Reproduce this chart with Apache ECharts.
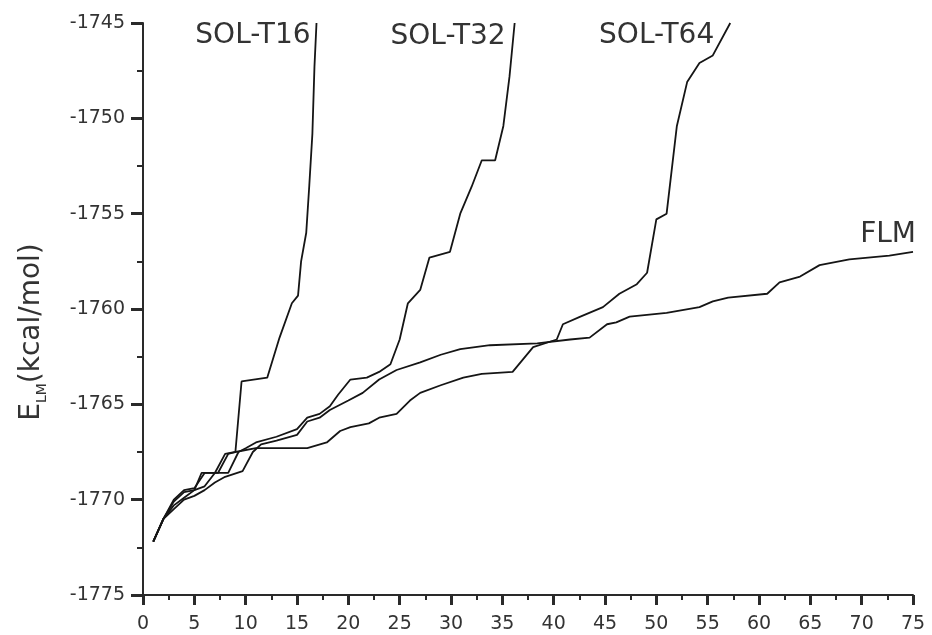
<!DOCTYPE html>
<html>
<head>
<meta charset="utf-8">
<script src="https://cdn.jsdelivr.net/npm/echarts@6/dist/echarts.min.js"></script>
<style>html,body{margin:0;padding:0;background:#fff;}#c{width:932px;height:635px;}</style>
</head>
<body>
<div id="c"></div>
<script>
const seriesNames = ['SOL-T16', 'SOL-T32', 'SOL-T64', 'FLM'];

const xT16 = [1,2,3,4,5,6,7,8,9,9.6,12.1,13.3,14.5,15.1,15.4,15.9,16.2,16.5,16.7,16.9];
const yT16 = [-1772.2,-1771.0,-1770.0,-1769.5,-1769.4,-1768.6,-1768.6,-1767.6,-1767.5,-1763.8,-1763.6,-1761.5,-1759.7,-1759.3,-1757.5,-1756.0,-1753.5,-1750.8,-1747.3,-1745.0];

const xT32 = [1,2,3,4,5,6,7,8.3,9.3,10,11,13,15,16,17.2,18.2,19,20.2,21.8,23,24.1,25,25.8,27,27.9,29.9,30.9,32,33,34.3,35.1,35.7,36.2];
const yT32 = [-1772.2,-1771.0,-1770.3,-1769.9,-1769.5,-1769.3,-1768.6,-1768.6,-1767.5,-1767.3,-1767.0,-1766.7,-1766.3,-1765.7,-1765.5,-1765.1,-1764.5,-1763.7,-1763.6,-1763.3,-1762.9,-1761.6,-1759.7,-1759.0,-1757.3,-1757.0,-1755.0,-1753.6,-1752.2,-1752.2,-1750.4,-1747.8,-1745.0];

const xT64 = [1,2,3,4,5,5.7,7.3,8.3,9,11,16,17.9,19.2,20.2,22,23,24.7,26,27,29,31.2,33,36,38,40.3,40.9,42.6,44.8,46.4,48.1,49.1,50,51,52,53,54.2,55.5,57.2];
const yT64 = [-1772.2,-1771.0,-1770.1,-1769.6,-1769.5,-1768.6,-1768.6,-1767.6,-1767.5,-1767.3,-1767.3,-1767.0,-1766.4,-1766.2,-1766.0,-1765.7,-1765.5,-1764.8,-1764.4,-1764.0,-1763.6,-1763.4,-1763.3,-1762.0,-1761.6,-1760.8,-1760.4,-1759.9,-1759.2,-1758.7,-1758.1,-1755.3,-1755.0,-1750.4,-1748.1,-1747.1,-1746.7,-1745.0];

const xFLM = [1,2,3,4,5,6,7,8,9.7,10.7,11.5,13,15,16,17.2,18.2,20,21.4,23,24.7,27,29,30.9,33.8,38.4,41.6,43.5,45.2,46.1,47.4,51,54.2,55.5,57,60.8,62,64,65.9,68.8,72.7,75];
const yFLM = [-1772.2,-1771.0,-1770.5,-1770.0,-1769.8,-1769.5,-1769.1,-1768.8,-1768.5,-1767.5,-1767.1,-1766.9,-1766.6,-1765.9,-1765.7,-1765.3,-1764.8,-1764.4,-1763.7,-1763.2,-1762.8,-1762.4,-1762.1,-1761.9,-1761.8,-1761.6,-1761.5,-1760.8,-1760.7,-1760.4,-1760.2,-1759.9,-1759.6,-1759.4,-1759.2,-1758.6,-1758.3,-1757.7,-1757.4,-1757.2,-1757.0];

const xTicks = { min: 0, max: 75, interval: 5 };
const yTicks = { min: -1775, max: -1745, interval: 5 };

function zip(xs, ys) { return xs.map((x, i) => [x, ys[i]]); }

const FONT = 'DejaVu Sans';
const TXT = '#333';
const LINE = '#151515';
const AX = '#2a2a2a';

function lineSeries(name, xs, ys, endLabel) {
  return {
    name: name,
    type: 'line',
    data: zip(xs, ys),
    showSymbol: false,
    symbol: 'none',
    lineStyle: { color: LINE, width: 1.8 },
    endLabel: Object.assign({
      show: true,
      formatter: name,
      color: TXT,
      fontFamily: FONT,
      fontSize: 28
    }, endLabel),
    animation: false
  };
}

const chart = echarts.init(document.getElementById('c'));
chart.setOption({
  backgroundColor: '#fff',
  animation: false,
  grid: { left: 143, right: 19, top: 23, bottom: 40 },
  xAxis: {
    type: 'value',
    min: xTicks.min, max: xTicks.max, interval: xTicks.interval,
    axisLine: { show: true, onZero: false, lineStyle: { color: AX, width: 2 } },
    axisTick: { show: true, inside: false, length: 10, lineStyle: { color: AX, width: 3 } },
    minorTick: { show: true, splitNumber: 2, length: 5, lineStyle: { color: AX, width: 2 } },
    splitLine: { show: false },
    axisLabel: { color: TXT, fontFamily: FONT, fontSize: 19, margin: 20 }
  },
  yAxis: {
    type: 'value',
    min: yTicks.min, max: yTicks.max, interval: yTicks.interval,
    axisLine: { show: true, onZero: false, lineStyle: { color: AX, width: 2 } },
    axisTick: { show: true, inside: false, length: 12, lineStyle: { color: AX, width: 3 } },
    minorTick: { show: true, splitNumber: 2, length: 6, lineStyle: { color: AX, width: 2 } },
    splitLine: { show: false },
    axisLabel: { color: TXT, fontFamily: FONT, fontSize: 19, margin: 18, formatter: function (v) { return String(v); } }
  },
  graphic: [{
    type: 'text',
    x: 32, y: 332,
    rotation: Math.PI / 2,
    style: {
      text: '{e|E}{s|LM}{r|(kcal/mol)}',
      align: 'center',
      verticalAlign: 'middle',
      fill: TXT,
      rich: {
        e: { fontFamily: FONT, fontSize: 28, fill: TXT, lineHeight: 34, verticalAlign: 'middle' },
        s: { fontFamily: FONT, fontSize: 14, fill: TXT, lineHeight: 34, verticalAlign: 'bottom' },
        r: { fontFamily: FONT, fontSize: 28, fill: TXT, lineHeight: 34, verticalAlign: 'middle' }
      }
    }
  }],
  series: [
    lineSeries(seriesNames[0], xT16, yT16, { align: 'right', distance: 0, offset: [-6, 13] }),
    lineSeries(seriesNames[1], xT32, yT32, { align: 'right', distance: 0, offset: [-9, 14] }),
    lineSeries(seriesNames[2], xT64, yT64, { align: 'right', distance: 0, offset: [-16, 13] }),
    lineSeries(seriesNames[3], xFLM, yFLM, { align: 'right', distance: 0, offset: [3, -17] })
  ]
});
</script>
</body>
</html>
